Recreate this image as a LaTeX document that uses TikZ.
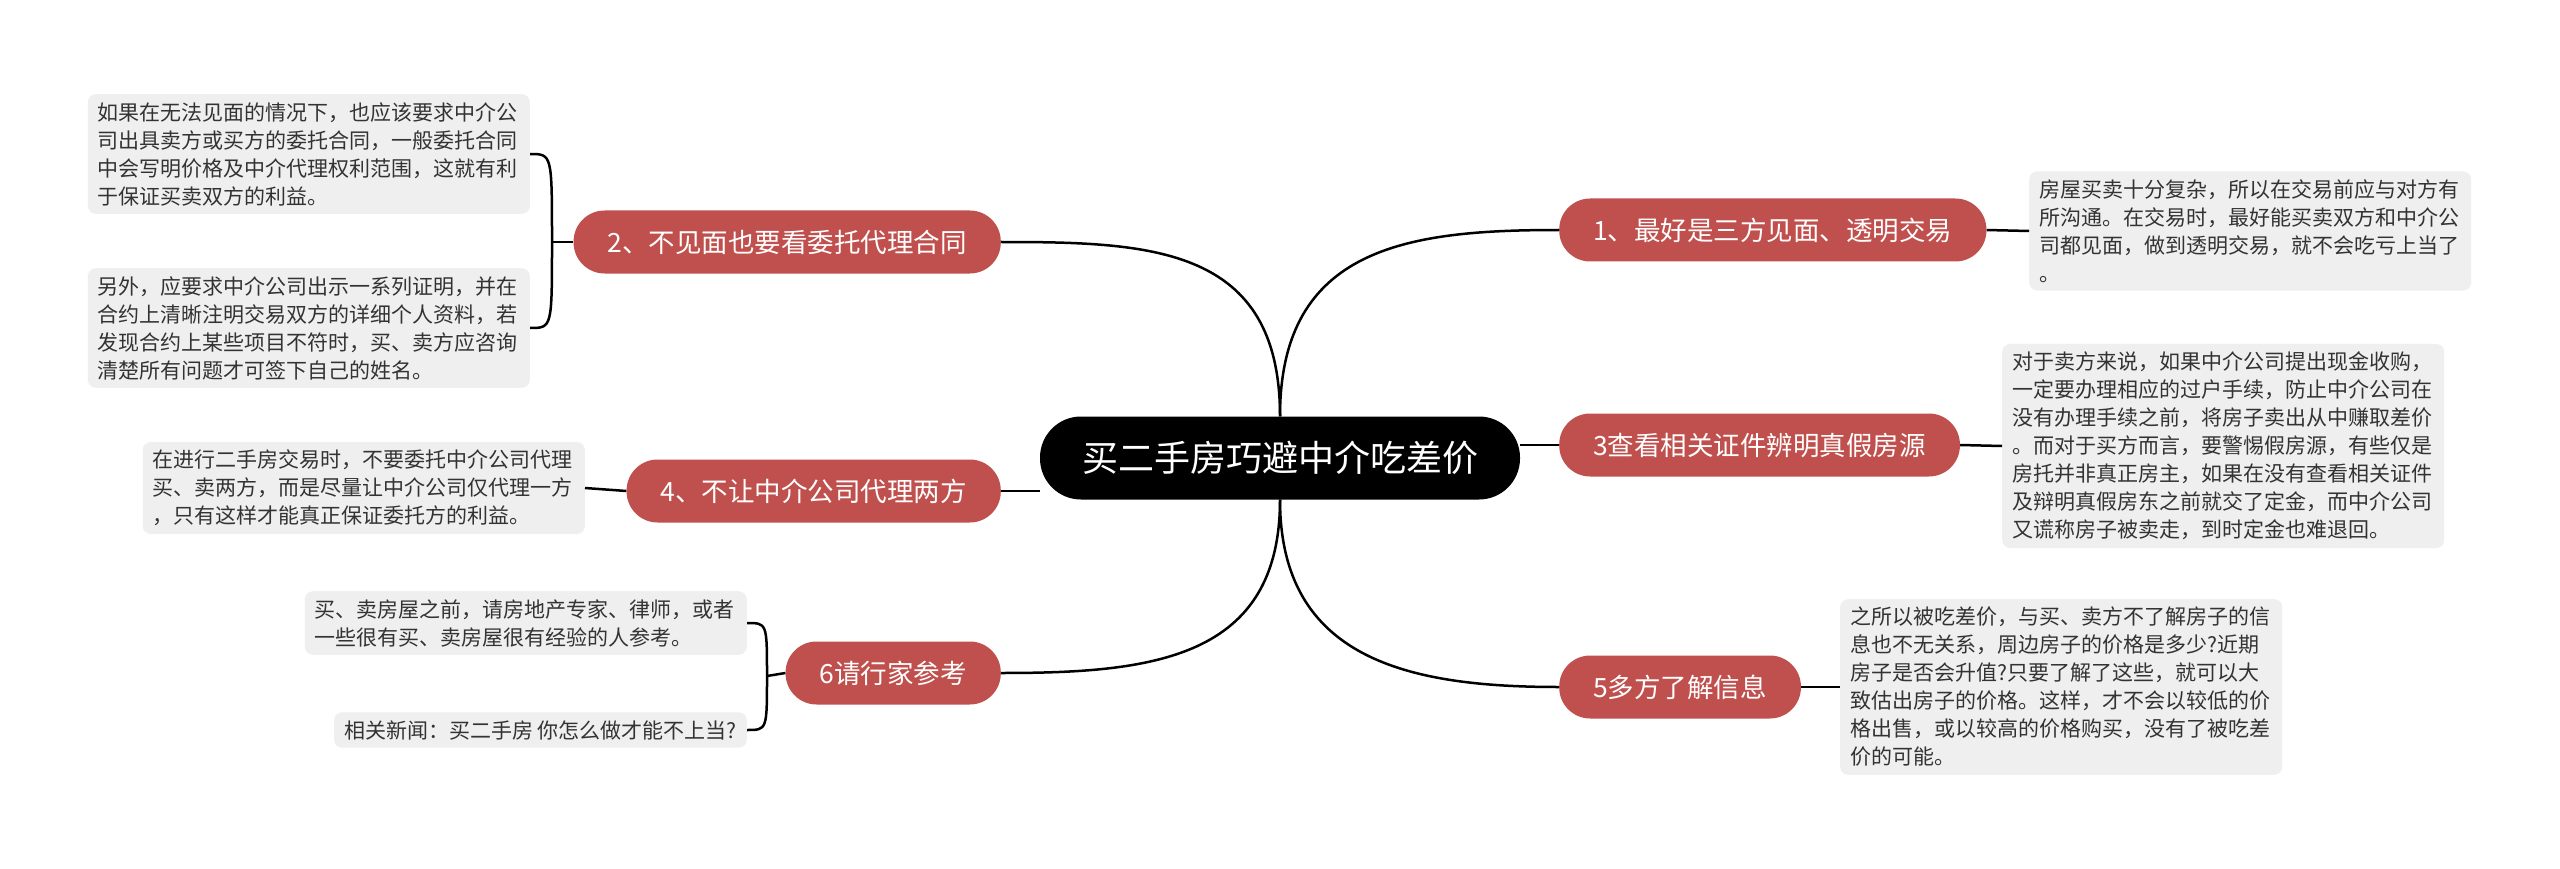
\documentclass[tikz,border=0pt]{standalone}
\usepackage{fontspec}
\setmainfont{Noto Sans CJK SC}
\definecolor{branchred}{HTML}{C0504D}
\definecolor{leafgray}{HTML}{EFEFEF}
\definecolor{leaftext}{HTML}{333333}

\begin{document}
\begin{tikzpicture}[x=1pt,y=-1pt,
  link/.style={line width=2.5pt},
  root/.style={fill=black,text=white,rounded corners=41pt,minimum height=83pt,inner xsep=42pt,font=\fontsize{36}{40}\selectfont},
  branch/.style={fill=branchred,text=white,rounded corners=31pt,minimum height=63pt,inner xsep=34pt,font=\fontsize{26.5}{30}\selectfont},
  note/.style={fill=leafgray,text=leaftext,rounded corners=8pt,inner xsep=10pt,inner ysep=8pt,font=\fontsize{21}{28}\selectfont},
  leaf/.style={note,align=left,text width=422pt},
]
\fill[white] (0,0) rectangle (2560,869);
\useasboundingbox (0,0) rectangle (2560,869);

\node[root] (c) at (1280,458) {买二手房巧避中介吃差价};

\node[branch,anchor=west] (n1) at (1559,230) {1、最好是三方见面、透明交易};
\node[branch,anchor=west] (n3) at (1559,445) {3查看相关证件辨明真假房源};
\node[branch,anchor=west] (n5) at (1559,687) {5多方了解信息};
\node[branch,anchor=east] (n2) at (1001,242) {2、不见面也要看委托代理合同};
\node[branch,anchor=east] (n4) at (1001,491) {4、不让中介公司代理两方};
\node[branch,anchor=east] (n6) at (1001,673) {6请行家参考};

\node[leaf,anchor=west] (l1) at (2029,231) {房屋买卖十分复杂，所以在交易前应与对方有\\所沟通。在交易时，最好能买卖双方和中介公\\司都见面，做到透明交易，就不会吃亏上当了\\。};
\node[leaf,anchor=west] (l3) at (2002,446) {对于卖方来说，如果中介公司提出现金收购，\\一定要办理相应的过户手续，防止中介公司在\\没有办理手续之前，将房子卖出从中赚取差价\\。而对于买方而言，要警惕假房源，有些仅是\\房托并非真正房主，如果在没有查看相关证件\\及辩明真假房东之前就交了定金，而中介公司\\又谎称房子被卖走，到时定金也难退回。};
\node[leaf,anchor=west] (l5) at (1840,687) {之所以被吃差价，与买、卖方不了解房子的信\\息也不无关系，周边房子的价格是多少?近期\\房子是否会升值?只要了解了这些，就可以大\\致估出房子的价格。这样，才不会以较低的价\\格出售，或以较高的价格购买，没有了被吃差\\价的可能。};
\node[leaf,anchor=east] (l2a) at (530,154) {如果在无法见面的情况下，也应该要求中介公\\司出具卖方或买方的委托合同，一般委托合同\\中会写明价格及中介代理权利范围，这就有利\\于保证买卖双方的利益。};
\node[leaf,anchor=east] (l2b) at (530,328) {另外，应要求中介公司出示一系列证明，并在\\合约上清晰注明交易双方的详细个人资料，若\\发现合约上某些项目不符时，买、卖方应咨询\\清楚所有问题才可签下自己的姓名。};
\node[leaf,anchor=east] (l4) at (585,488) {在进行二手房交易时，不要委托中介公司代理\\买、卖两方，而是尽量让中介公司仅代理一方\\，只有这样才能真正保证委托方的利益。};
\node[leaf,anchor=east] (l6a) at (747,623) {买、卖房屋之前，请房地产专家、律师，或者\\一些很有买、卖房屋很有经验的人参考。};
\node[note,anchor=east] (l6b) at (747,730) {相关新闻：买二手房 你怎么做才能不上当?};

\coordinate (j2) at (552,242);
\coordinate (j6) at (767,676);

\draw[link] (c.north) .. controls +(0,-170) and +(-150,0) .. (n1.west);
\draw[link] (c.north) .. controls +(0,-170) and +(150,0) .. (n2.east);
\draw[link] (c.south) .. controls +(0,160) and +(-150,0) .. (n5.west);
\draw[link] (c.south) .. controls +(0,160) and +(150,0) .. (n6.east);
\draw[link] (c.east |- n3.west) -- (n3.west);
\draw[link] (c.west |- n4.east) -- (n4.east);

\draw[link] (n1.east) -- (l1.west);
\draw[link] (n3.east) -- (l3.west);
\draw[link] (n5.east) -- (l5.west);
\draw[link] (n4.west) -- (l4.east);

\draw[link] (n2.west) -- (j2);
\draw[link] (j2) .. controls (j2 |- l2a.east) .. (l2a.east);
\draw[link] (j2) .. controls (j2 |- l2b.east) .. (l2b.east);
\draw[link] (n6.west) -- (j6);
\draw[link] (j6) .. controls (j6 |- l6a.east) .. (l6a.east);
\draw[link] (j6) .. controls (j6 |- l6b.east) .. (l6b.east);
\end{tikzpicture}
\end{document}
